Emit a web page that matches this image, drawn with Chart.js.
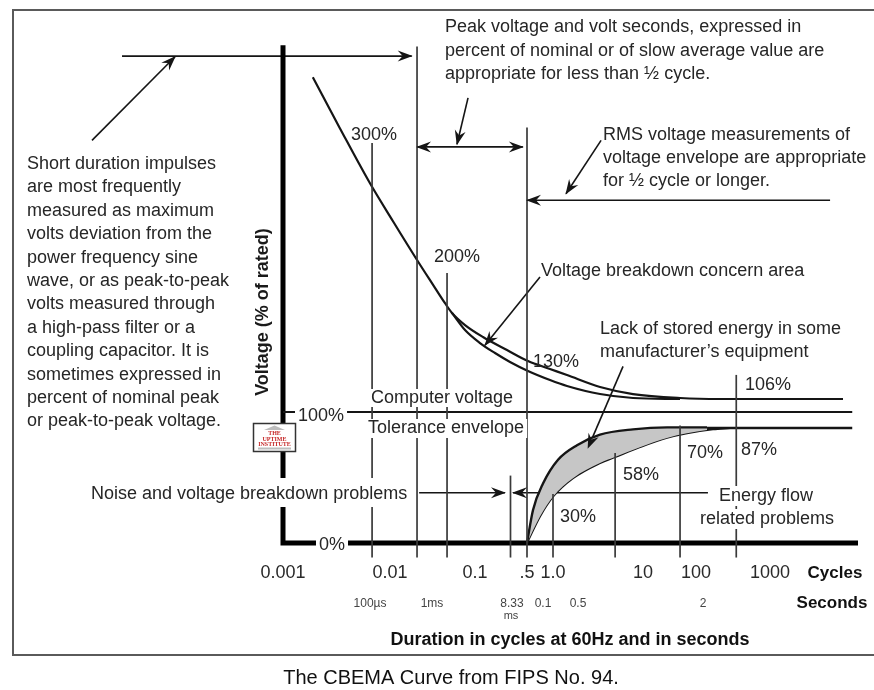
<!DOCTYPE html>
<html>
<head>
<meta charset="utf-8">
<script src="https://cdn.jsdelivr.net/npm/chart.js@4.4.1/dist/chart.umd.min.js"></script>
<style>
  html, body { margin: 0; padding: 0; background: #fff; }
  #wrap { width: 874px; height: 690px; position: relative; }
</style>
</head>
<body>
<div id="wrap"><canvas id="cbema"></canvas></div>
<script>
// CBEMA curve (FIPS No. 94) - duration in cycles at 60 Hz, voltage in % of rated

const cycleTicks = [0.001, 0.01, 0.1, 0.5, 1, 10, 100, 1000];
const cycleTickLabels = ['0.001', '0.01', '0.1', '.5', '1.0', '10', '100', '1000'];
const secondsLabels = ['100\u00b5s', '1ms', '8.33', '0.1', '0.5', '2'];
const percentTicks = [0, 100];
const percentLabels = ['0%', '100%'];

// overvoltage envelope: outer edge and inner edge of the breakdown concern area
const upperCycles = [0.0019, 0.0034, 0.0065, 0.0108, 0.0208, 0.0321, 0.0444, 0.0536, 0.0763, 0.128, 0.269, 0.513, 0.923, 1.43, 3.33, 7.74, 50, 211, 3800];
const upperVolts = [351, 311.5, 269, 240, 210, 191, 177, 169.6, 160.4, 151.3, 141.4, 133, 127.2, 122.9, 114.5, 109.5, 106.7, 106, 106];
const upperInnerCycles = [0.0536, 0.0763, 0.1168, 0.1857, 0.2955, 0.513, 0.923, 1.43, 3.33, 7.74, 50];
const upperInnerVolts = [169.6, 156.6, 146.7, 139.1, 132.3, 125.8, 119.4, 115.2, 109.5, 106.7, 106];

// undervoltage envelope: band of stored energy in some equipment
const lowerOuterCycles = [0.5, 0.587, 0.766, 1.137, 1.848, 3.33, 7.74, 28.4, 141];
const lowerOuterVolts = [0, 25, 45, 63, 74, 82, 86, 87.5, 87.5];
const lowerInnerCycles = [0.5, 0.707, 1.0, 1.668, 3.33, 4.885, 9.26, 28.4, 67.6, 169.7, 288];
const lowerInnerVolts = [0, 20, 35, 49, 60.5, 65, 72.5, 79.5, 83, 86, 87];

const nominalCycles = [0.001, 4500];     // 100 %
const toleranceCycles = [141, 4500];    // 87 %

// reference verticals (cycles) and the % level each one reaches
const markerCycles = [0.0068, 0.0208, 0.0469, 0.3, 0.5, 1.0, 4.9, 50, 350];
const markerTops = [300, 375, 200, 51, 312, 37, 68, 89, 123];
const markerFoot = -11;

// span arrows and callout leaders, [from, to]
const arrowCycles = [
    [3.13e-5, 0.018], [0.0208, 0.44], [3000, 0.5], [0.022, 0.253], [145, 0.324],
    [1.64e-5, 9.8e-5], [0.0828, 0.0614], [3.42, 1.395], [0.707, 0.136], [6.0, 2.45]
];
const arrowVolts = [
    [367.5, 367.5], [297, 297], [256, 256], [38, 38], [38, 38],
    [302, 367], [335, 299], [302, 261], [197, 145], [129, 72]
];

const impulseNote = [
    'Short duration impulses', 'are most frequently', 'measured as maximum',
    'volts deviation from the', 'power frequency sine', 'wave, or as peak-to-peak',
    'volts measured through', 'a high-pass filter or a', 'coupling capacitor. It is',
    'sometimes expressed in', 'percent of nominal peak', 'or peak-to-peak voltage.'
];
const peakNote = [
    'Peak voltage and volt seconds, expressed in',
    'percent of nominal or of slow average value are',
    'appropriate for less than \u00bd cycle.'
];
const rmsNote = ['RMS voltage measurements of', 'voltage envelope are appropriate', 'for \u00bd cycle or longer.'];
const storedNote = ['Lack of stored energy in some', 'manufacturer\u2019s equipment'];

// the drawing is not to scale: value -> position is piecewise between known marks
const knots = {
    x: { log: true, pts: [[0.001, 0], [0.01, 0.18609], [0.1, 0.33391], [0.5, 0.42435], [1, 0.46957],
                          [10, 0.62609], [100, 0.71826], [1000, 0.84696], [5000, 1]] },
    y: { log: false, pts: [[0, 0], [87, 0.22863], [100, 0.26044], [106, 0.28628], [130, 0.35388],
                           [200, 0.53678], [300, 0.79523], [380, 1]] }
};

class SchematicScale extends Chart.LinearScale {
    static id = 'schematic';
    static defaults = {};
    toDecimal(v) {
        const k = knots[this.id];
        let i = 1;
        while (i < k.pts.length - 1 && v > k.pts[i][0]) i++;
        const [v0, d0] = k.pts[i - 1];
        const [v1, d1] = k.pts[i];
        const t = k.log ? Math.log(v / v0) / Math.log(v1 / v0) : (v - v0) / (v1 - v0);
        return d0 + t * (d1 - d0);
    }
    getPixelForValue(v) {
        if (v === null || isNaN(v)) return NaN;
        return this.getPixelForDecimal(this.toDecimal(v));
    }
}
Chart.register(SchematicScale);

const INK = '#262626';
const FONT = '18px "Liberation Sans", Arial, sans-serif';
const BOLD = 'bold 18px "Liberation Sans", Arial, sans-serif';

const pts = (xs, ys) => xs.map((x, i) => ({ x: x, y: ys[i] }));
const line = (data, style) => Object.assign({
    type: 'line', data: data, pointRadius: 0, borderColor: '#151515', borderWidth: 2,
    tension: 0, fill: false, clip: false
}, style);

const arrowHeads = ['end', 'both', 'end', 'end', 'end', 'end', 'end', 'end', 'end', 'end'];

const datasets = [];
markerCycles.forEach((c, i) => {
    datasets.push(line(pts([c, c], [markerFoot, markerTops[i]]), { borderColor: '#3a3a3a', borderWidth: 1.7 }));
});
datasets.push(line(pts(lowerOuterCycles, lowerOuterVolts), {
    cubicInterpolationMode: 'monotone', fill: '+1', backgroundColor: '#c6c6c6', borderWidth: 2.4
}));
datasets.push(line(pts(lowerInnerCycles, lowerInnerVolts), { cubicInterpolationMode: 'monotone', borderWidth: 2 }));
datasets.push(line(pts(toleranceCycles, [87, 87]), { borderWidth: 2.5 }));
datasets.push(line(pts(nominalCycles, [100, 100]), { borderWidth: 2 }));
datasets.push(line(pts(upperCycles, upperVolts), { cubicInterpolationMode: 'monotone', borderWidth: 2.2 }));
datasets.push(line(pts(upperInnerCycles, upperInnerVolts), { cubicInterpolationMode: 'monotone', borderWidth: 2.2 }));
datasets.push(line(pts([0.001, 0.001, 5000], [376, 0, 0]), { borderColor: '#000', borderWidth: 5, borderJoinStyle: 'miter' }));
arrowCycles.forEach((c, i) => {
    datasets.push(line(pts(c, arrowVolts[i]), { borderWidth: 1.6, heads: arrowHeads[i] }));
});

function drawHead(ctx, tip, from) {
    const a = Math.atan2(tip.y - from.y, tip.x - from.x);
    ctx.save();
    ctx.translate(tip.x, tip.y);
    ctx.rotate(a);
    ctx.beginPath();
    ctx.moveTo(1, 0);
    ctx.lineTo(-14, -5.5);
    ctx.lineTo(-9, 0);
    ctx.lineTo(-14, 5.5);
    ctx.closePath();
    ctx.fillStyle = '#151515';
    ctx.fill();
    ctx.restore();
}

const arrowPlugin = {
    id: 'arrowPlugin',
    afterDatasetsDraw(chart) {
        const ctx = chart.ctx;
        chart.data.datasets.forEach((ds, i) => {
            if (!ds.heads) return;
            const p = chart.getDatasetMeta(i).data;
            const n = p.length;
            drawHead(ctx, p[n - 1], p[n - 2]);
            if (ds.heads === 'both') drawHead(ctx, p[0], p[1]);
        });
    }
};

function write(ctx, s, x, y, o) {
    o = o || {};
    ctx.font = o.font || FONT;
    ctx.textAlign = o.align || 'left';
    ctx.textBaseline = 'alphabetic';
    if (o.bg) {
        const w = ctx.measureText(s).width;
        const left = o.align === 'center' ? x - w / 2 : x;
        const up = o.up || 15, down = o.down || 5;
        ctx.fillStyle = '#fff';
        ctx.fillRect(left - 3, y - up, w + 6, up + down);
    }
    ctx.fillStyle = o.color || INK;
    ctx.fillText(s, x, y);
}

const framePlugin = {
    id: 'framePlugin',
    beforeDraw(chart) {
        const ctx = chart.ctx;
        ctx.save();
        ctx.fillStyle = '#fff';
        ctx.fillRect(0, 0, chart.width, chart.height);
        ctx.strokeStyle = '#5a5a5a';
        ctx.lineWidth = 2;
        ctx.beginPath();
        ctx.moveTo(874, 10);
        ctx.lineTo(13, 10);
        ctx.lineTo(13, 655);
        ctx.lineTo(874, 655);
        ctx.stroke();
        ctx.restore();
    }
};

const notesPlugin = {
    id: 'notesPlugin',
    afterDraw(chart) {
        const ctx = chart.ctx;
        const xs = chart.scales.x, ys = chart.scales.y;
        ctx.save();

        impulseNote.forEach((s, i) => write(ctx, s, 27, 169 + i * 23.4));
        peakNote.forEach((s, i) => write(ctx, s, 445, 32 + i * 23.5));
        rmsNote.forEach((s, i) => write(ctx, s, 603, 140 + i * 23));
        storedNote.forEach((s, i) => write(ctx, s, 600, 334 + i * 23));

        write(ctx, '300%', 374, 140, { align: 'center' });
        write(ctx, '200%', 457, 262, { align: 'center' });
        write(ctx, 'Voltage breakdown concern area', 541, 276);
        write(ctx, '130%', 533, 367);
        write(ctx, '106%', 745, 390);
        write(ctx, 'Computer voltage', 371, 403, { bg: true, up: 14, down: 4 });
        write(ctx, 'Tolerance envelope', 368, 433, { bg: true, up: 14, down: 5 });
        write(ctx, '70%', 687, 458);
        write(ctx, '87%', 741, 455);
        write(ctx, '58%', 623, 480);
        write(ctx, '30%', 560, 522);
        write(ctx, 'Noise and voltage breakdown problems', 91, 499, { bg: true, up: 21, down: 8 });
        write(ctx, 'Energy flow', 766, 501, { align: 'center', bg: true });
        write(ctx, 'related problems', 767, 524, { align: 'center', bg: true });

        // % labels sit on their own lines
        write(ctx, percentLabels[1], 298, ys.getPixelForValue(percentTicks[1]) + 9, { bg: true, up: 14, down: 5 });
        write(ctx, percentLabels[0], 332, ys.getPixelForValue(percentTicks[0]) + 7, { align: 'center', bg: true, up: 14, down: 6 });

        // cycle tick labels from the x scale
        const base = ys.getPixelForValue(0);
        cycleTicks.forEach((v, i) => {
            write(ctx, cycleTickLabels[i], xs.getPixelForValue(v), base + 35, { align: 'center', color: '#2a2a2a' });
        });
        write(ctx, 'Cycles', 835, base + 35, { align: 'center', font: 'bold 17px "Liberation Sans", Arial, sans-serif', color: '#111' });

        const secX = [370, 432, 512, 543, 578, 703];
        secondsLabels.forEach((s, i) => {
            write(ctx, s, secX[i], 607, { align: 'center', font: '12px "Liberation Sans", Arial, sans-serif', color: '#444' });
        });
        write(ctx, 'ms', 511, 619, { align: 'center', font: '11px "Liberation Sans", Arial, sans-serif', color: '#444' });
        write(ctx, 'Seconds', 832, 608, { align: 'center', font: 'bold 17px "Liberation Sans", Arial, sans-serif', color: '#111' });

        write(ctx, 'Duration in cycles at 60Hz and in seconds', 570, 645, { align: 'center', font: BOLD, color: '#111' });
        write(ctx, 'The CBEMA Curve from FIPS No. 94.', 451, 684, { align: 'center', font: '20px "Liberation Sans", Arial, sans-serif', color: '#111' });

        // rotated y title
        ctx.save();
        ctx.translate(262, 312);
        ctx.rotate(-Math.PI / 2);
        write(ctx, 'Voltage (% of rated)', 0, 6, { align: 'center', font: BOLD, color: '#1a1a1a' });
        ctx.restore();

        // small institute badge
        ctx.fillStyle = '#fff';
        ctx.fillRect(253, 423, 43, 29);
        ctx.strokeStyle = '#333';
        ctx.lineWidth = 1.5;
        ctx.strokeRect(253.5, 423.5, 42, 28);
        ctx.fillStyle = '#bdbdbd';
        ctx.beginPath();
        ctx.moveTo(264, 430);
        ctx.lineTo(274.5, 425.5);
        ctx.lineTo(285, 430);
        ctx.closePath();
        ctx.fill();
        ctx.fillRect(258, 447.5, 33, 2);
        ctx.fillStyle = '#c62828';
        ctx.font = 'bold 6px "Liberation Serif", serif';
        ctx.textAlign = 'center';
        ctx.fillText('THE', 274.5, 435);
        ctx.fillText('UPTIME', 274.5, 440.5);
        ctx.fillText('INSTITUTE', 274.5, 446);

        ctx.restore();
    }
};

new Chart(document.getElementById('cbema'), {
    type: 'line',
    data: { datasets: datasets },
    options: {
        responsive: true,
        maintainAspectRatio: false,
        animation: false,
        events: [],
        layout: { padding: { left: 283, right: 16, top: 40, bottom: 147 } },
        scales: {
            x: { type: 'schematic', display: false },
            y: { type: 'schematic', display: false }
        },
        plugins: {
            legend: { display: false },
            tooltip: { enabled: false }
        }
    },
    plugins: [framePlugin, arrowPlugin, notesPlugin]
});
</script>
</body>
</html>
